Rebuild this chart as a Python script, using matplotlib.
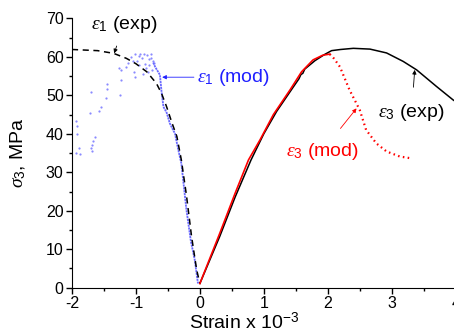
import matplotlib
matplotlib.use('Agg')
import matplotlib.pyplot as plt
import numpy as np

plt.rcParams['font.family'] = ['Liberation Sans', 'DejaVu Sans']
plt.rcParams['mathtext.fontset'] = 'custom'
plt.rcParams['mathtext.rm'] = 'Liberation Sans'
plt.rcParams['mathtext.sf'] = 'Liberation Sans'
plt.rcParams['mathtext.it'] = 'Liberation Serif:italic'
plt.rcParams['axes.unicode_minus'] = False

## eps1 experimental (dashed)
e1_exp_x = [-2.0, -1.6, -1.35, -1.15, -1.0, -0.83, -0.68, -0.6, -0.52, -0.44, -0.36, -0.29, -0.21, -0.13, -0.05, 0.0]
e1_exp_y = [61.9, 61.6, 60.9, 59.6, 58.2, 56.1, 53.1, 50.5, 47.0, 43.0, 39.3, 33.2, 24.0, 13.3, 4.6, 1.1]

## eps1 model, continuous branch
e1_mod_x = [-0.73, -0.70, -0.625, -0.60, -0.57, -0.52, -0.47, -0.42, -0.39, -0.34, -0.29, -0.21, -0.14, -0.08, -0.03]
e1_mod_y = [58.5, 57.4, 55.3, 51.0, 47.0, 45.5, 42.7, 41.0, 40.1, 36.0, 32.3, 20.2, 12.0, 7.2, 1.1]

## eps1 model, scattered points after peak
e1_sc_x = [-1.94, -1.92, -1.92, -1.94, -1.875, -1.89, -1.71, -1.72, -1.69, -1.71, -1.64, -1.67, -1.69,
           -1.57, -1.54, -1.47, -1.46, -1.46, -1.25, -1.24, -1.26, -1.23, -1.156, -1.12, -1.08, -1.04,
           -1.02, -0.96, -0.93, -0.90, -0.875, -0.82, -0.80, -0.77, -0.73, -0.72, -0.755, -0.81, -0.885,
           -1.02, -1.03, -0.98, -0.95, -0.86, -0.84, -0.79, -0.76]
e1_sc_y = [43.2, 41.9, 40.0, 34.9, 34.8, 36.2, 50.9, 45.3, 35.4, 36.2, 39.1, 38.0, 37.2,
           45.9, 47.0, 49.2, 51.6, 52.9, 50.1, 54.0, 57.0, 56.6, 57.4, 58.3, 60.0, 58.8,
           60.7, 60.2, 60.7, 59.6, 60.7, 60.5, 59.4, 60.7, 58.9, 58.3, 56.6, 56.1, 55.5,
           54.7, 56.1, 59.0, 57.8, 58.0, 57.2, 57.9, 59.8]

## eps3 experimental
e3_exp_x = [0.0, 0.31, 0.55, 0.80, 1.0, 1.2, 1.43, 1.55, 1.58, 1.61, 1.64, 1.8, 1.95, 2.06, 2.2, 2.40, 2.66, 2.92, 3.18, 3.39, 3.70, 3.96, 4.05]
e3_exp_y = [1.1, 13.3, 23.5, 33.2, 40.0, 45.8, 51.4, 54.3, 55.4, 55.7, 56.8, 59.0, 60.6, 61.6, 61.9, 62.2, 62.0, 61.0, 58.8, 56.6, 52.3, 48.8, 47.8]

## eps3 model, rising part
e3_mod_x = [0.0, 0.31, 0.55, 0.76, 0.94, 1.15, 1.41, 1.59, 1.77, 1.92, 2.03]
e3_mod_y = [1.1, 14.1, 24.5, 33.2, 38.4, 45.0, 51.4, 56.1, 59.2, 60.4, 60.7]
## eps3 model, softening part (dotted)
e3_soft_x = [2.03, 2.10, 2.19, 2.34, 2.50, 2.60, 2.76, 2.92, 3.125, 3.31]
e3_soft_y = [60.7, 59.5, 57.4, 51.4, 46.2, 41.0, 37.5, 35.4, 34.1, 33.6]

fig = plt.figure(figsize=(4.54, 3.36), dpi=100)
ax = fig.add_axes([0.1586, 0.1437, 0.845, 0.8018])

ax.plot(e1_sc_x, e1_sc_y, ls='none', marker='o', ms=1.6, mec='none', mfc='#8a8aff')
ax.plot(e1_mod_x, e1_mod_y, color='#6a6aff', lw=1.3, ls=(0, (1.2, 0.4)))
ax.plot(e1_exp_x, e1_exp_y, color='black', lw=1.1, ls=(0, (4, 3)))
ax.plot(e3_exp_x, e3_exp_y, color='black', lw=1.1)
ax.plot(e3_mod_x, e3_mod_y, color='red', lw=1.2)
ax.plot(e3_soft_x, e3_soft_y, color='red', lw=1.6, ls=(0, (0.7, 1.5)))

ax.set_xlim(-2, 4)
ax.set_ylim(0, 70)
ax.set_xticks([-2, -1, 0, 1, 2, 3, 4])
ax.set_xticks(np.arange(-1.5, 4, 1.0), minor=True)
ax.set_yticks(range(0, 71, 10))
ax.set_yticks(range(5, 70, 10), minor=True)
ax.spines['top'].set_visible(False)
ax.spines['right'].set_visible(False)
ax.tick_params(which='major', length=4, width=1, labelsize=11.5, pad=2)
ax.tick_params(which='minor', length=2.5, width=1)

ax.set_xlabel(r'Strain x 10$^{\mathrm{-3}}$', fontsize=14, labelpad=0)
ax.xaxis.set_label_coords(0.45, -0.09)
ax.set_ylabel(r'$\sigma_3$, MPa', fontsize=14)
ax.yaxis.set_label_coords(-0.115, 0.5)

arr = dict(arrowstyle='-|>', lw=0.6, mutation_scale=6)
ax.annotate(r'$\varepsilon_1$ (exp)', xy=(-1.34, 60.9), xytext=(-1.19, 68.3), fontsize=14,
            ha='center', va='center', arrowprops=dict(arr, color='black', shrinkA=6, shrinkB=0))
ax.annotate(r'$\varepsilon_1$ (mod)', xy=(-0.59, 54.7), xytext=(-0.05, 54.7), fontsize=14,
            ha='left', va='center', color='#2020ff', arrowprops=dict(arr, color='#2020ff', shrinkA=0, shrinkB=0))
ax.annotate(r'$\varepsilon_3$ (mod)', xy=(2.45, 46.6), xytext=(1.91, 35.4), fontsize=14,
            ha='center', va='center', color='red', arrowprops=dict(arr, color='red', shrinkA=9, shrinkB=0))
ax.annotate(r'$\varepsilon_3$ (exp)', xy=(3.36, 56.6), xytext=(3.31, 45.4), fontsize=14,
            ha='center', va='center', color='black', arrowprops=dict(arr, color='black', shrinkA=9, shrinkB=0))

fig.savefig('out.png', dpi=100)
